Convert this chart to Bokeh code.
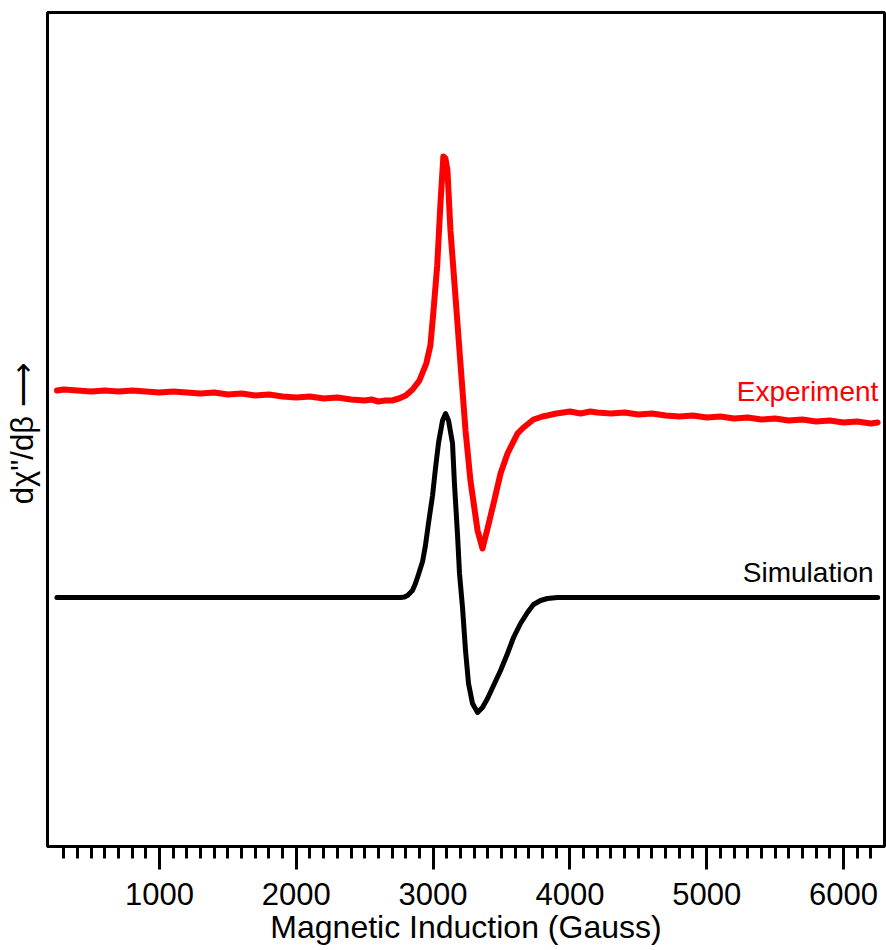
from bokeh.plotting import figure
from bokeh.models import Range1d, FixedTicker, Label
from bokeh.embed import file_html
from bokeh.resources import INLINE

# Magnetic field (Gauss) and derivative signal (arbitrary units)
field_exp = [250, 300, 400, 500, 600, 700, 800, 900, 1000, 1100, 1200, 1300, 1400, 1500,
             1600, 1700, 1800, 1900, 2000, 2100, 2200, 2300, 2400, 2500, 2550, 2600, 2650,
             2700, 2750, 2800, 2850, 2900, 2950, 2980, 3000, 3030, 3055, 3075, 3090, 3105,
             3127, 3164, 3200, 3237, 3273, 3325, 3361, 3398, 3442, 3493, 3544, 3617, 3661,
             3734, 3800, 3836, 3900, 3953, 4000, 4078, 4150, 4200, 4300, 4400, 4500, 4600,
             4700, 4800, 4900, 5000, 5100, 5200, 5300, 5400, 5500, 5600, 5700, 5800, 5900,
             6000, 6100, 6200, 6250]
signal_exp = [2.07, 2.08, 2.07, 2.06, 2.07, 2.06, 2.07, 2.06, 2.05, 2.06, 2.05, 2.04, 2.05, 2.03,
              2.04, 2.02, 2.03, 2.01, 2.00, 2.01, 1.99, 2.00, 1.98, 1.97, 1.98, 1.96, 1.97,
              1.97, 1.99, 2.02, 2.08, 2.17, 2.34, 2.52, 2.82, 3.32, 3.97, 4.41, 4.39, 4.27,
              3.67, 3.00, 2.34, 1.67, 1.17, 0.67, 0.49, 0.69, 0.94, 1.24, 1.44, 1.64, 1.70,
              1.78, 1.81, 1.82, 1.84, 1.85, 1.86, 1.84, 1.86, 1.85, 1.84, 1.85, 1.83, 1.84,
              1.82, 1.81, 1.82, 1.80, 1.81, 1.79, 1.80, 1.78, 1.79, 1.77, 1.78, 1.76, 1.77,
              1.75, 1.76, 1.74, 1.75]

field_sim = [250, 2762, 2790, 2813, 2849, 2871, 2893, 2923, 2944, 2966, 2996, 3018, 3040, 3069, 3091,
             3113, 3142, 3156, 3178, 3193, 3215, 3237, 3259, 3288, 3325, 3361, 3398, 3442,
             3493, 3544, 3588, 3639, 3690, 3734, 3785, 3836, 3909, 6250]
signal_sim = [0.0, 0.0, 0.005, 0.02, 0.07, 0.14, 0.23, 0.36, 0.52, 0.74, 1.02, 1.30, 1.55, 1.77, 1.84,
              1.77, 1.54, 1.14, 0.64, 0.24, -0.10, -0.53, -0.86, -1.06, -1.15, -1.10, -1.01, -0.88,
              -0.73, -0.56, -0.40, -0.26, -0.15, -0.07, -0.03, -0.01, 0.0, 0.0]

x_major_ticks = [1000, 2000, 3000, 4000, 5000, 6000]
x_minor_ticks = list(range(300, 6300, 100))

FONT = "Liberation Sans"

p = figure(width=886, height=950, output_backend="svg", toolbar_location=None,
           x_range=Range1d(181, 6300), y_range=Range1d(-2.49, 5.85),
           min_border_left=47, min_border_right=2, min_border_top=12, min_border_bottom=104,
           background_fill_color="white", border_fill_color="white")
p.grid.visible = False
p.outline_line_color = "black"
p.outline_line_width = 3

p.line(field_exp, signal_exp, line_color="#ff0000", line_width=6, line_join="round", line_cap="round")
p.line(field_sim, signal_sim, line_color="black", line_width=5, line_join="round", line_cap="round")

xa = p.xaxis[0]
xa.ticker = FixedTicker(ticks=x_major_ticks, minor_ticks=x_minor_ticks)
xa.axis_line_color = "black"
xa.axis_line_width = 3
xa.major_tick_line_width = 3
xa.minor_tick_line_width = 3
xa.major_tick_in = 0
xa.minor_tick_in = 0
xa.major_tick_out = 23
xa.minor_tick_out = 12
xa.major_label_text_font = FONT
xa.major_label_text_font_size = "31px"
xa.major_label_text_color = "black"
xa.major_label_standoff = 13
xa.axis_label = "Magnetic Induction (Gauss)"
xa.axis_label_text_font = FONT
xa.axis_label_text_font_size = "32px"
xa.axis_label_text_font_style = "normal"
xa.axis_label_text_color = "black"
xa.axis_label_standoff = 1

ya = p.yaxis[0]
ya.ticker = FixedTicker(ticks=[])
ya.major_tick_line_color = None
ya.minor_tick_line_color = None
ya.axis_line_color = None
ya.major_label_standoff = 0
ya.axis_label = "d\u03c7\"/d\u03b2  \u27f6"
ya.axis_label_text_font = FONT
ya.axis_label_text_font_size = "31px"
ya.axis_label_text_font_style = "normal"
ya.axis_label_text_color = "black"
ya.axis_label_standoff = 8

p.add_layout(Label(x=6255, y=2.06, text="Experiment", text_align="right",
                   text_baseline="alphabetic", text_color="#ff0000",
                   text_font=FONT, text_font_size="28px"))
p.add_layout(Label(x=6220, y=0.25, text="Simulation", text_align="right",
                   text_baseline="alphabetic", text_color="black",
                   text_font=FONT, text_font_size="28px"))

open("out.html", "w").write(file_html(p, INLINE))
